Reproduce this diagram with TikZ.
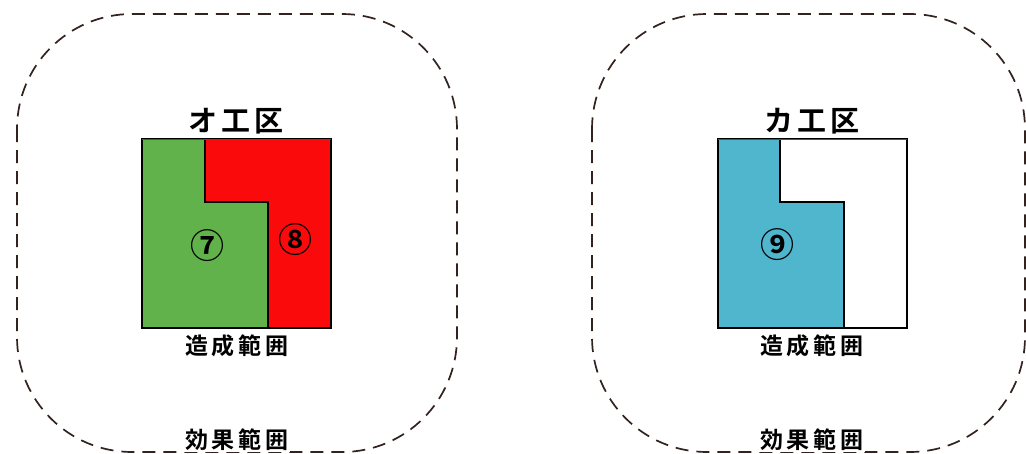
\documentclass[tikz,border=0pt]{standalone}
\usepackage{fontspec}
\newfontfamily\cjk{Noto Sans CJK JP}[UprightFont=* Bold]
\definecolor{grn}{RGB}{98,178,76}
\definecolor{rd}{RGB}{250,10,10}
\definecolor{blu}{RGB}{80,182,205}
\definecolor{dsh}{RGB}{50,35,30}
\begin{document}
\begin{tikzpicture}[x=1pt,y=-1pt,
  zone/.style={draw=dsh,line width=1.7pt,dash pattern=on 13pt off 8pt,rounded corners=115pt},
  plot/.style={draw=black,line width=1.1pt},
  title/.style={font=\cjk\fontsize{29}{29}\selectfont,inner sep=0pt},
  lbl/.style={font=\cjk\fontsize{23}{23}\selectfont,inner sep=0pt},
  eff/.style={font=\cjk\fontsize{23}{23}\selectfont,inner sep=1pt,fill=white},
  num/.style={font=\cjk\fontsize{34}{34}\selectfont,inner sep=0pt}]
\useasboundingbox (0,0) rectangle (1026,453);
\fill[white] (0,0) rectangle (1026,453);
% left panel
\draw[zone] (17,14) rectangle (457,452);
\fill[grn] (142,139) -- (205,139) -- (205,202) -- (268,202) -- (268,328) -- (142,328) -- cycle;
\fill[rd] (205,139) -- (331,139) -- (331,328) -- (268,328) -- (268,202) -- (205,202) -- cycle;
\draw[plot] (142,139) rectangle (331,328);
\draw[plot] (205,139) -- (205,202) -- (268,202) -- (268,328);
\draw[rd,line width=1pt] (142,139) -- (331,139);
\node[title] (t1) at (236,121) {オ\hspace{4pt}工\hspace{4pt}区};
\node[lbl] (c1) at (237,346) {造\hspace{4pt}成\hspace{4pt}範\hspace{4pt}囲};
\node[eff] (e1) at (237,440) {効\hspace{4pt}果\hspace{4pt}範\hspace{4pt}囲};
\node[num] (n7) at (207,246) {⑦};
\node[num] (n8) at (295,240) {⑧};
% right panel
\draw[zone] (592,14) rectangle (1025,452);
\fill[blu] (718,139) -- (780,139) -- (780,202) -- (844,202) -- (844,328) -- (718,328) -- cycle;
\draw[plot] (718,139) rectangle (907,328);
\draw[plot] (780,139) -- (780,202) -- (844,202) -- (844,328);
\draw[rd,line width=1pt] (718,139) -- (907,139);
\node[title] (t2) at (812,121) {カ\hspace{4pt}工\hspace{4pt}区};
\node[lbl] (c2) at (812,346) {造\hspace{4pt}成\hspace{4pt}範\hspace{4pt}囲};
\node[eff] (e2) at (812,440) {効\hspace{4pt}果\hspace{4pt}範\hspace{4pt}囲};
\node[num] (n9) at (777,245) {⑨};
\end{tikzpicture}
\end{document}
